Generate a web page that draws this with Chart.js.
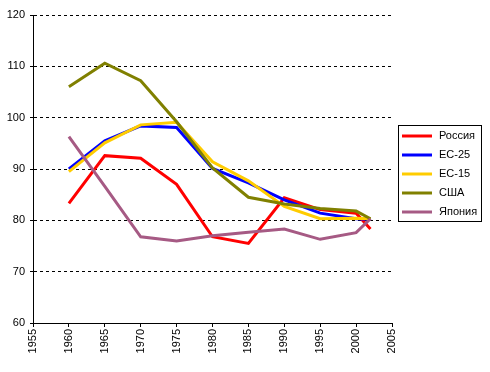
<!DOCTYPE html>
<html>
<head>
<meta charset="utf-8">
<script src="https://cdn.jsdelivr.net/npm/chart.js@4"></script>
<style>
  html, body { margin: 0; padding: 0; background: #fff; }
  #wrap { width: 490px; height: 372px; position: relative; }
</style>
</head>
<body>
<div id="wrap"><canvas id="chart" width="490" height="372"></canvas></div>
<script>
// data
const years = [1960, 1965, 1970, 1975, 1980, 1985, 1990, 1995, 2000, 2002];
const russia = [83.3, 92.6, 92.1, 87.0, 76.8, 75.5, 84.4, 82.1, 81.4, 78.3];
const eu25 = [90.0, 95.5, 98.4, 98.1, 90.1, 87.3, 84.0, 81.4, 80.3, 80.2];
const eu15 = [89.5, 95.1, 98.6, 99.1, 91.4, 87.7, 82.7, 80.3, 80.4, 80.3];
const usa = [106.0, 110.6, 107.2, 99.2, 90.2, 84.5, 83.2, 82.3, 81.8, 80.3];
const japan = [96.3, 86.6, 76.8, 76.0, 77.0, 77.7, 78.3, 76.3, 77.6, 80.3];
const seriesNames = ['Россия', 'ЕС-25', 'ЕС-15', 'США', 'Япония'];
const seriesColors = ['#FF0000', '#0000FF', '#FFCC00', '#808000', '#A65A84'];

const FONT = "'Liberation Sans', Arial, sans-serif";

function points(values) {
    return years.map((y, i) => ({ x: y, y: values[i] }));
}

const allValues = [russia, eu25, eu15, usa, japan];
const datasets = allValues.map((vals, i) => ({
    label: seriesNames[i],
    data: points(vals),
    borderColor: seriesColors[i],
    backgroundColor: seriesColors[i],
    borderWidth: 3,
    pointRadius: 0,
    tension: 0,
    order: allValues.length - i
}));

// legend box drawn by hand, Excel style
const boxLegend = {
    id: 'boxLegend',
    afterDraw(chart) {
        const ctx = chart.ctx;
        const left = 398.5, top = 125.5, w = 83, h = 96;
        ctx.save();
        ctx.strokeStyle = '#000';
        ctx.lineWidth = 1;
        ctx.strokeRect(left, top, w, h);
        ctx.font = '11px ' + FONT;
        ctx.textBaseline = 'middle';
        ctx.fillStyle = '#000';
        chart.data.datasets.forEach((ds, i) => {
            const y = 136 + i * 19;
            ctx.strokeStyle = ds.borderColor;
            ctx.lineWidth = 3;
            ctx.beginPath();
            ctx.moveTo(402, y);
            ctx.lineTo(432, y);
            ctx.stroke();
            ctx.fillText(ds.label, 439, y);
        });
        ctx.restore();
    }
};

new Chart(document.getElementById('chart'), {
    type: 'line',
    data: { datasets: datasets },
    options: {
        responsive: false,
        animation: false,
        layout: { padding: { top: 15, right: 98, left: 0, bottom: 0 } },
        plugins: {
            legend: { display: false },
            tooltip: { enabled: false }
        },
        scales: {
            x: {
                type: 'linear',
                min: 1955,
                max: 2005,
                ticks: {
                    stepSize: 5,
                    minRotation: 90,
                    maxRotation: 90,
                    padding: 2,
                    color: '#000',
                    font: { family: FONT, size: 11 },
                    callback: v => String(v)
                },
                grid: { drawOnChartArea: false, drawTicks: true, tickLength: 4, color: '#000' },
                border: { color: '#000', width: 1 },
                afterFit(scale) { scale.height = 49; }
            },
            y: {
                min: 60,
                max: 120,
                ticks: {
                    stepSize: 10,
                    padding: 5,
                    color: '#000',
                    font: { family: FONT, size: 11 }
                },
                grid: { color: '#000', lineWidth: 1, tickLength: 3, tickBorderDash: [] },
                border: { color: '#000', width: 1, dash: [3, 3] },
                afterFit(scale) { scale.width = 33; }
            }
        }
    },
    plugins: [boxLegend]
});
</script>
</body>
</html>
